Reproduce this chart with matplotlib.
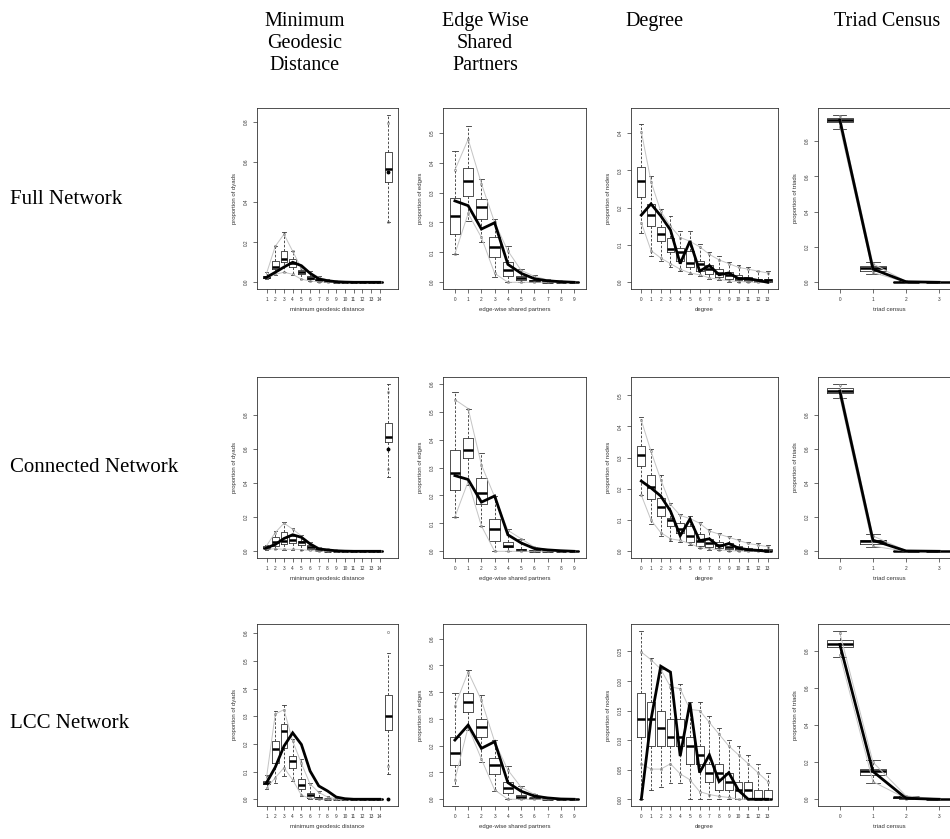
import matplotlib
matplotlib.use("Agg")
import matplotlib.pyplot as plt

# ---------------- data ----------------
COL_TITLES = ["Minimum\nGeodesic\nDistance", "Edge Wise\nShared\nPartners", "Degree", "Triad Census"]
ROW_TITLES = ["Full Network", "Connected Network", "LCC Network"]

DIST_CATS = ["1", "2", "3", "4", "5", "6", "7", "8", "9", "10", "11", "12", "13", "14"]
ESP_CATS = ["0", "1", "2", "3", "4", "5", "6", "7", "8", "9"]
DEG_CATS = ["0", "1", "2", "3", "4", "5", "6", "7", "8", "9", "10", "11", "12", "13"]
TRIAD_CATS = ["0", "1", "2", "3"]

X_LABELS = ["minimum geodesic distance", "edge-wise shared partners", "degree", "triad census"]
Y_LABELS = ["proportion of dyads", "proportion of edges", "proportion of nodes", "proportion of triads"]

# --- Full network: minimum geodesic distance (1..14, then Inf) ---
FULL_DIST_MED = [0.025, 0.075, 0.117, 0.097, 0.05, 0.02, 0.01, 0.004, 0.001, 0, 0, 0, 0, 0, 0.567]
FULL_DIST_Q1 = [0.02, 0.067, 0.10, 0.075, 0.04, 0.015, 0.005, 0.002, 0, 0, 0, 0, 0, 0, 0.502]
FULL_DIST_Q3 = [0.03, 0.108, 0.158, 0.117, 0.06, 0.03, 0.015, 0.006, 0.002, 0, 0, 0, 0, 0, 0.652]
FULL_DIST_LO = [0.015, 0.035, 0.05, 0.035, 0.015, 0.005, 0, 0, 0, 0, 0, 0, 0, 0, 0.30]
FULL_DIST_HI = [0.05, 0.18, 0.25, 0.158, 0.075, 0.055, 0.03, 0.015, 0.005, 0.002, 0, 0, 0, 0, 0.836]
FULL_DIST_QLO = [0.02, 0.04, 0.05, 0.04, 0.015, 0.007, 0.002, 0, 0, 0, 0, 0, 0, 0, 0.30]
FULL_DIST_QHI = [0.045, 0.18, 0.24, 0.155, 0.07, 0.05, 0.025, 0.012, 0.004, 0.001, 0, 0, 0, 0, 0.796]
FULL_DIST_OBS = [0.025, 0.05, 0.076, 0.10, 0.083, 0.045, 0.017, 0.008, 0.003, 0.001, 0, 0, 0, 0, 0.552]

# --- Full network: edge-wise shared partners ---
FULL_ESP_MED = [0.222, 0.339, 0.253, 0.117, 0.042, 0.015, 0.005, 0.002, 0, 0]
FULL_ESP_Q1 = [0.161, 0.287, 0.211, 0.083, 0.02, 0.008, 0.002, 0, 0, 0]
FULL_ESP_Q3 = [0.283, 0.383, 0.278, 0.153, 0.067, 0.022, 0.008, 0.003, 0.001, 0]
FULL_ESP_LO = [0.094, 0.205, 0.133, 0.017, 0, 0, 0, 0, 0, 0]
FULL_ESP_HI = [0.44, 0.522, 0.344, 0.213, 0.122, 0.045, 0.025, 0.01, 0.005, 0.002]
FULL_ESP_QLO = [0.095, 0.23, 0.15, 0.03, 0, 0, 0, 0, 0, 0]
FULL_ESP_QHI = [0.375, 0.478, 0.33, 0.2, 0.105, 0.04, 0.02, 0.008, 0.004, 0.001]
FULL_ESP_OBS = [0.272, 0.256, 0.178, 0.199, 0.06, 0.03, 0.012, 0.005, 0.002, 0]

# --- Full network: degree ---
FULL_DEG_MED = [0.271, 0.18, 0.129, 0.089, 0.08, 0.053, 0.049, 0.035, 0.025, 0.02, 0.012, 0.01, 0.005, 0.005]
FULL_DEG_Q1 = [0.228, 0.151, 0.111, 0.08, 0.058, 0.04, 0.031, 0.022, 0.015, 0.01, 0.005, 0.004, 0.002, 0.001]
FULL_DEG_Q3 = [0.309, 0.209, 0.147, 0.12, 0.093, 0.084, 0.058, 0.045, 0.035, 0.028, 0.02, 0.015, 0.01, 0.008]
FULL_DEG_LO = [0.131, 0.071, 0.056, 0.04, 0.031, 0.022, 0.018, 0.01, 0.005, 0.002, 0, 0, 0, 0]
FULL_DEG_HI = [0.424, 0.286, 0.196, 0.178, 0.138, 0.138, 0.102, 0.08, 0.07, 0.055, 0.045, 0.04, 0.03, 0.03]
FULL_DEG_QLO = [0.16, 0.085, 0.065, 0.05, 0.035, 0.025, 0.02, 0.012, 0.008, 0.004, 0.002, 0.001, 0, 0]
FULL_DEG_QHI = [0.404, 0.27, 0.19, 0.15, 0.12, 0.11, 0.095, 0.075, 0.06, 0.05, 0.04, 0.035, 0.03, 0.025]
FULL_DEG_OBS = [0.18, 0.21, 0.178, 0.14, 0.05, 0.11, 0.03, 0.045, 0.02, 0.025, 0.01, 0.01, 0.005, 0.0]

# --- Full network: triad census ---
FULL_TRI_MED = [0.92, 0.079, 0.003, 0]
FULL_TRI_Q1 = [0.907, 0.066, 0.002, 0]
FULL_TRI_Q3 = [0.932, 0.09, 0.004, 0]
FULL_TRI_LO = [0.87, 0.047, 0, 0]
FULL_TRI_HI = [0.95, 0.117, 0.006, 0]
FULL_TRI_QLO = [0.88, 0.055, 0.001, 0]
FULL_TRI_QHI = [0.945, 0.105, 0.005, 0]
FULL_TRI_OBS = [0.92, 0.075, 0.003, 0]

# --- Connected network: minimum geodesic distance ---
CONN_DIST_MED = [0.022, 0.052, 0.062, 0.068, 0.052, 0.025, 0.008, 0.004, 0.002, 0, 0, 0, 0, 0, 0.672]
CONN_DIST_Q1 = [0.018, 0.033, 0.043, 0.049, 0.039, 0.015, 0.005, 0.002, 0.001, 0, 0, 0, 0, 0, 0.642]
CONN_DIST_Q3 = [0.03, 0.082, 0.115, 0.091, 0.062, 0.035, 0.012, 0.006, 0.003, 0, 0, 0, 0, 0, 0.753]
CONN_DIST_LO = [0.01, 0.014, 0.01, 0.01, 0.01, 0.005, 0, 0, 0, 0, 0, 0, 0, 0, 0.438]
CONN_DIST_HI = [0.035, 0.117, 0.173, 0.136, 0.097, 0.055, 0.025, 0.015, 0.006, 0.002, 0, 0, 0, 0, 0.98]
CONN_DIST_QLO = [0.012, 0.015, 0.012, 0.012, 0.01, 0.005, 0.001, 0, 0, 0, 0, 0, 0, 0, 0.485]
CONN_DIST_QHI = [0.033, 0.11, 0.165, 0.13, 0.09, 0.05, 0.022, 0.012, 0.005, 0.001, 0, 0, 0, 0, 0.934]
CONN_DIST_OBS = [0.02, 0.04, 0.075, 0.097, 0.082, 0.043, 0.014, 0.008, 0.003, 0.001, 0, 0, 0, 0, 0.60]

# --- Connected network: edge-wise shared partners ---
CONN_ESP_MED = [0.28, 0.363, 0.209, 0.079, 0.02, 0.005, 0.002, 0, 0, 0]
CONN_ESP_Q1 = [0.219, 0.334, 0.168, 0.038, 0.014, 0.002, 0, 0, 0, 0]
CONN_ESP_Q3 = [0.363, 0.405, 0.263, 0.115, 0.034, 0.01, 0.003, 0.001, 0, 0]
CONN_ESP_LO = [0.123, 0.239, 0.091, 0, 0, 0, 0, 0, 0, 0]
CONN_ESP_HI = [0.57, 0.511, 0.351, 0.198, 0.079, 0.045, 0.015, 0.005, 0.002, 0]
CONN_ESP_QLO = [0.123, 0.25, 0.091, 0, 0, 0, 0, 0, 0, 0]
CONN_ESP_QHI = [0.543, 0.511, 0.31, 0.195, 0.075, 0.045, 0.015, 0.005, 0.002, 0]
CONN_ESP_OBS = [0.271, 0.257, 0.176, 0.198, 0.059, 0.03, 0.01, 0.005, 0.002, 0]

# --- Connected network: degree ---
CONN_DEG_MED = [0.309, 0.207, 0.143, 0.1, 0.073, 0.048, 0.034, 0.025, 0.02, 0.015, 0.01, 0.005, 0.003, 0.002]
CONN_DEG_Q1 = [0.272, 0.166, 0.113, 0.082, 0.06, 0.029, 0.018, 0.015, 0.01, 0.007, 0.004, 0.002, 0.001, 0]
CONN_DEG_Q3 = [0.338, 0.243, 0.172, 0.108, 0.092, 0.082, 0.055, 0.04, 0.03, 0.025, 0.018, 0.012, 0.008, 0.006]
CONN_DEG_LO = [0.179, 0.087, 0.048, 0.034, 0.029, 0.02, 0.01, 0.005, 0.003, 0.001, 0, 0, 0, 0]
CONN_DEG_HI = [0.431, 0.328, 0.243, 0.156, 0.121, 0.113, 0.094, 0.07, 0.06, 0.05, 0.04, 0.03, 0.025, 0.02]
CONN_DEG_QLO = [0.18, 0.1, 0.06, 0.04, 0.035, 0.025, 0.012, 0.008, 0.005, 0.002, 0.001, 0, 0, 0]
CONN_DEG_QHI = [0.42, 0.32, 0.23, 0.15, 0.115, 0.105, 0.09, 0.065, 0.055, 0.045, 0.035, 0.025, 0.02, 0.015]
CONN_DEG_OBS = [0.225, 0.203, 0.177, 0.129, 0.05, 0.103, 0.034, 0.04, 0.015, 0.025, 0.01, 0.005, 0.003, 0]

# --- Connected network: triad census ---
CONN_TRI_MED = [0.942, 0.058, 0.002, 0]
CONN_TRI_Q1 = [0.93, 0.043, 0.001, 0]
CONN_TRI_Q3 = [0.955, 0.068, 0.003, 0]
CONN_TRI_LO = [0.897, 0.023, 0, 0]
CONN_TRI_HI = [0.98, 0.10, 0.005, 0]
CONN_TRI_QLO = [0.905, 0.03, 0, 0]
CONN_TRI_QHI = [0.975, 0.09, 0.004, 0]
CONN_TRI_OBS = [0.94, 0.065, 0.002, 0]

# --- LCC network: minimum geodesic distance ---
LCC_DIST_MED = [0.06, 0.182, 0.246, 0.14, 0.052, 0.016, 0.005, 0.001, 0, 0, 0, 0, 0, 0, 0.302]
LCC_DIST_Q1 = [0.054, 0.132, 0.186, 0.114, 0.036, 0.006, 0.002, 0, 0, 0, 0, 0, 0, 0, 0.252]
LCC_DIST_Q3 = [0.066, 0.21, 0.272, 0.156, 0.072, 0.024, 0.008, 0.002, 0.001, 0, 0, 0, 0, 0, 0.378]
LCC_DIST_LO = [0.036, 0.06, 0.084, 0.066, 0.012, 0.002, 0, 0, 0, 0, 0, 0, 0, 0, 0.09]
LCC_DIST_HI = [0.086, 0.318, 0.342, 0.216, 0.144, 0.06, 0.03, 0.01, 0.003, 0, 0, 0, 0, 0, 0.529]
LCC_DIST_QLO = [0.04, 0.078, 0.114, 0.07, 0.015, 0.003, 0.001, 0, 0, 0, 0, 0, 0, 0, 0.119]
LCC_DIST_QHI = [0.08, 0.308, 0.324, 0.21, 0.13, 0.055, 0.025, 0.008, 0.002, 0, 0, 0, 0, 0, 0.604]
LCC_DIST_OBS = [0.06, 0.116, 0.192, 0.24, 0.198, 0.102, 0.048, 0.03, 0.008, 0.002, 0, 0, 0, 0, 0.0]

# --- LCC network: edge-wise shared partners ---
LCC_ESP_MED = [0.174, 0.364, 0.271, 0.128, 0.041, 0.01, 0.003, 0, 0, 0]
LCC_ESP_Q1 = [0.128, 0.327, 0.234, 0.094, 0.025, 0.005, 0.001, 0, 0, 0]
LCC_ESP_Q3 = [0.234, 0.397, 0.298, 0.153, 0.066, 0.015, 0.006, 0.001, 0, 0]
LCC_ESP_LO = [0.051, 0.258, 0.14, 0.029, 0, 0, 0, 0, 0, 0]
LCC_ESP_HI = [0.397, 0.482, 0.389, 0.221, 0.125, 0.05, 0.02, 0.006, 0.002, 0]
LCC_ESP_QLO = [0.072, 0.27, 0.15, 0.035, 0, 0, 0, 0, 0, 0]
LCC_ESP_QHI = [0.348, 0.475, 0.37, 0.215, 0.109, 0.045, 0.018, 0.005, 0.002, 0]
LCC_ESP_OBS = [0.221, 0.277, 0.19, 0.215, 0.062, 0.03, 0.012, 0.005, 0.001, 0]

# --- LCC network: degree ---
LCC_DEG_MED = [0.135, 0.135, 0.12, 0.106, 0.106, 0.09, 0.075, 0.045, 0.045, 0.03, 0.015, 0.015, 0.0, 0.0]
LCC_DEG_Q1 = [0.105, 0.09, 0.09, 0.09, 0.09, 0.06, 0.06, 0.03, 0.015, 0.015, 0, 0, 0, 0]
LCC_DEG_Q3 = [0.18, 0.165, 0.15, 0.135, 0.135, 0.106, 0.09, 0.06, 0.06, 0.045, 0.03, 0.03, 0.015, 0.015]
LCC_DEG_LO = [0, 0.015, 0.02, 0.027, 0.027, 0, 0, 0, 0, 0, 0, 0, 0, 0]
LCC_DEG_HI = [0.284, 0.239, 0.22, 0.195, 0.195, 0.165, 0.165, 0.14, 0.12, 0.1, 0.09, 0.075, 0.06, 0.045]
LCC_DEG_QLO = [0.06, 0.051, 0.051, 0.06, 0.043, 0.033, 0.013, 0.008, 0.005, 0.003, 0, 0, 0, 0]
LCC_DEG_QHI = [0.249, 0.236, 0.22, 0.19, 0.187, 0.152, 0.15, 0.13, 0.11, 0.09, 0.075, 0.06, 0.045, 0.03]
LCC_DEG_OBS = [0.0, 0.135, 0.225, 0.215, 0.073, 0.163, 0.045, 0.075, 0.03, 0.045, 0.015, 0.0, 0.0, 0.0]

# --- LCC network: triad census ---
LCC_TRI_MED = [0.838, 0.153, 0.01, 0]
LCC_TRI_Q1 = [0.822, 0.131, 0.008, 0]
LCC_TRI_Q3 = [0.861, 0.164, 0.012, 0]
LCC_TRI_LO = [0.766, 0.086, 0.003, 0]
LCC_TRI_HI = [0.91, 0.213, 0.02, 0.001]
LCC_TRI_QLO = [0.78, 0.095, 0.004, 0]
LCC_TRI_QHI = [0.897, 0.2, 0.018, 0.001]
LCC_TRI_OBS = [0.835, 0.15, 0.005, 0]

# y-axis upper data limits and tick steps per panel (row-major)
Y_MAX = [[0.837, 0.56, 0.449, 0.95],
         [0.983, 0.60, 0.537, 0.983],
         [0.609, 0.629, 0.285, 0.909]]
Y_STEP = [[0.2, 0.1, 0.1, 0.2],
          [0.2, 0.1, 0.1, 0.2],
          [0.1, 0.1, 0.05, 0.2]]

PANELS = [
    [(FULL_DIST_Q1, FULL_DIST_MED, FULL_DIST_Q3, FULL_DIST_LO, FULL_DIST_HI, FULL_DIST_QLO, FULL_DIST_QHI, FULL_DIST_OBS),
     (FULL_ESP_Q1, FULL_ESP_MED, FULL_ESP_Q3, FULL_ESP_LO, FULL_ESP_HI, FULL_ESP_QLO, FULL_ESP_QHI, FULL_ESP_OBS),
     (FULL_DEG_Q1, FULL_DEG_MED, FULL_DEG_Q3, FULL_DEG_LO, FULL_DEG_HI, FULL_DEG_QLO, FULL_DEG_QHI, FULL_DEG_OBS),
     (FULL_TRI_Q1, FULL_TRI_MED, FULL_TRI_Q3, FULL_TRI_LO, FULL_TRI_HI, FULL_TRI_QLO, FULL_TRI_QHI, FULL_TRI_OBS)],
    [(CONN_DIST_Q1, CONN_DIST_MED, CONN_DIST_Q3, CONN_DIST_LO, CONN_DIST_HI, CONN_DIST_QLO, CONN_DIST_QHI, CONN_DIST_OBS),
     (CONN_ESP_Q1, CONN_ESP_MED, CONN_ESP_Q3, CONN_ESP_LO, CONN_ESP_HI, CONN_ESP_QLO, CONN_ESP_QHI, CONN_ESP_OBS),
     (CONN_DEG_Q1, CONN_DEG_MED, CONN_DEG_Q3, CONN_DEG_LO, CONN_DEG_HI, CONN_DEG_QLO, CONN_DEG_QHI, CONN_DEG_OBS),
     (CONN_TRI_Q1, CONN_TRI_MED, CONN_TRI_Q3, CONN_TRI_LO, CONN_TRI_HI, CONN_TRI_QLO, CONN_TRI_QHI, CONN_TRI_OBS)],
    [(LCC_DIST_Q1, LCC_DIST_MED, LCC_DIST_Q3, LCC_DIST_LO, LCC_DIST_HI, LCC_DIST_QLO, LCC_DIST_QHI, LCC_DIST_OBS),
     (LCC_ESP_Q1, LCC_ESP_MED, LCC_ESP_Q3, LCC_ESP_LO, LCC_ESP_HI, LCC_ESP_QLO, LCC_ESP_QHI, LCC_ESP_OBS),
     (LCC_DEG_Q1, LCC_DEG_MED, LCC_DEG_Q3, LCC_DEG_LO, LCC_DEG_HI, LCC_DEG_QLO, LCC_DEG_QHI, LCC_DEG_OBS),
     (LCC_TRI_Q1, LCC_TRI_MED, LCC_TRI_Q3, LCC_TRI_LO, LCC_TRI_HI, LCC_TRI_QLO, LCC_TRI_QHI, LCC_TRI_OBS)],
]
CATS = [DIST_CATS, ESP_CATS, DEG_CATS, TRIAD_CATS]

# ---------------- layout (pixels) ----------------
W, H = 950, 839
COL_X = [(257, 398), (443, 586), (631, 778), (818, 961)]
ROW_Y = [(108, 289), (377, 558), (624, 806)]
TITLE_X = [305, 485, 654, 887]
ROW_LABEL_Y = [200, 468, 723]

SANS = ["Liberation Sans", "DejaVu Sans"]
SERIF = ["Liberation Serif", "DejaVu Serif"]

fig = plt.figure(figsize=(W / 100, H / 100), dpi=100)
fig.patch.set_facecolor("white")


def add_ax(x0, x1, y0, y1):
    return fig.add_axes([x0 / W, 1 - y1 / H, (x1 - x0) / W, (y1 - y0) / H])


def draw_panel(ax, data, cats, ymax, ystep, xlabel, ylabel, is_dist):
    q1, med, q3, lo, hi, qlo, qhi, obs = data
    n = len(med)
    pos = list(range(1, n + 1))
    stats = [dict(med=med[i], q1=q1[i], q3=q3[i], whislo=lo[i], whishi=hi[i], fliers=[])
             for i in range(n)]
    ax.bxp(stats, positions=pos, widths=0.8, capwidths=0.4, patch_artist=False,
           boxprops=dict(color="#333333", lw=0.6),
           whiskerprops=dict(color="#333333", lw=0.6, linestyle=(0, (3, 2))),
           capprops=dict(color="#333333", lw=0.6),
           medianprops=dict(color="black", lw=1.8, solid_capstyle="butt"))
    m = n - 1 if is_dist else n
    for q in (qlo, qhi):
        ax.plot(pos[:m], q[:m], color="#c4c4c4", lw=0.7, zorder=3)
        ax.plot(pos, q, ls="none", marker="o", ms=1.6, mfc="none", mec="#777777", mew=0.4, zorder=4)
    ax.plot(pos[:m], obs[:m], color="black", lw=2.0, zorder=5, solid_joinstyle="miter")
    if is_dist:
        ax.plot(pos[-1], obs[-1], ls="none", marker="o", ms=1.8, color="black", zorder=5)

    ax.set_xlim(0.5 - 0.04 * n, n + 0.5 + 0.04 * n)
    ax.set_ylim(-0.04 * ymax, 1.04 * ymax)
    ax.set_xticks(range(1, len(cats) + 1))
    ax.set_xticklabels(cats, fontsize=3.4, family=SANS, color="#333333")
    nt = int(ymax / ystep + 1e-9) + 1
    yt = [round(k * ystep, 3) for k in range(nt)]
    ax.set_yticks(yt)
    dec = 2 if ystep < 0.1 else 1
    ax.set_yticklabels([f"{v:.{dec}f}" for v in yt], fontsize=3.4, family=SANS,
                       rotation=90, va="center", color="#333333")
    ax.tick_params(axis="both", direction="out", length=3, width=0.5, color="#333333", pad=2.5)
    for s in ax.spines.values():
        s.set_linewidth(0.6)
        s.set_color("#333333")
    ax.set_xlabel(xlabel, fontsize=4.3, family=SANS, color="#333333", labelpad=4)
    ax.set_ylabel(ylabel, fontsize=4.3, family=SANS, color="#333333", labelpad=5)


for r in range(3):
    for c in range(4):
        x0, x1 = COL_X[c]
        y0, y1 = ROW_Y[r]
        ax = add_ax(x0, x1, y0, y1)
        draw_panel(ax, PANELS[r][c], CATS[c], Y_MAX[r][c], Y_STEP[r][c],
                   X_LABELS[c], Y_LABELS[c], is_dist=(c == 0))

for c, t in enumerate(COL_TITLES):
    fig.text(TITLE_X[c] / W, 1 - 12 / H, t, ha="center", va="top", fontsize=14.5,
             family=SERIF, linespacing=1.22)

for r, t in enumerate(ROW_TITLES):
    fig.text(10 / W, 1 - ROW_LABEL_Y[r] / H, t, ha="left", va="center", fontsize=15,
             family=SERIF)

fig.savefig("out.png", dpi=100, facecolor="white")
